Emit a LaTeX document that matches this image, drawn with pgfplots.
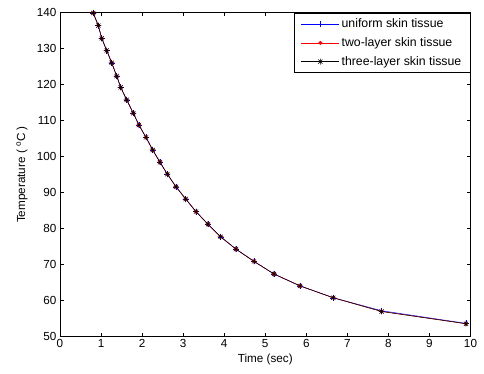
\documentclass[border=0pt]{standalone}
\usepackage{fontspec}
\setmainfont{Liberation Sans}
\usepackage{pgfplots}
\pgfplotsset{compat=1.18}
\pgfdeclareplotmark{mstar}{%
  \pgfpathmoveto{\pgfqpoint{-\pgfplotmarksize}{0pt}}\pgfpathlineto{\pgfqpoint{\pgfplotmarksize}{0pt}}%
  \pgfpathmoveto{\pgfqpoint{0pt}{-\pgfplotmarksize}}\pgfpathlineto{\pgfqpoint{0pt}{\pgfplotmarksize}}%
  \pgfpathmoveto{\pgfqpoint{-0.7\pgfplotmarksize}{-0.7\pgfplotmarksize}}\pgfpathlineto{\pgfqpoint{0.7\pgfplotmarksize}{0.7\pgfplotmarksize}}%
  \pgfpathmoveto{\pgfqpoint{-0.7\pgfplotmarksize}{0.7\pgfplotmarksize}}\pgfpathlineto{\pgfqpoint{0.7\pgfplotmarksize}{-0.7\pgfplotmarksize}}%
  \pgfusepathqstroke}
\begin{document}
\begin{tikzpicture}
\path[use as bounding box] (-60pt,-36.3pt) rectangle (424pt,336.7pt);
\begin{axis}[
  at={(0pt,0pt)}, anchor=south west,
  scale only axis, width=410.5pt, height=324.4pt,
  xmin=0, xmax=10, ymin=50, ymax=140,
  xtick={0,1,...,10}, ytick={50,60,...,140},
  tick align=inside, major tick length=4pt,
  tick style={black, line width=0.5pt},
  axis line style={line width=0.5pt},
  /pgf/number format/assume math mode=true,
  tick label style={font=\fontsize{11.7}{13}\selectfont},
  xticklabel style={yshift=1pt},
  label style={font=\fontsize{11.7}{13}\selectfont},
  xlabel={Time (sec)}, ylabel={Temperature ( \textsuperscript{o}C )},
  xlabel style={at={(axis description cs:0.5,0)}, anchor=center, yshift=-22.5pt},
  ylabel style={at={(axis description cs:0,0.5)}, anchor=center, yshift=38pt},
  legend style={at={(axis description cs:1,0.997)}, anchor=north east, draw=black, line width=0.5pt,
    font=\fontsize{12.3}{14}\selectfont, inner xsep=7pt, inner ysep=3.5pt, row sep=4.3pt,
    cells={anchor=west}, nodes={inner xsep=2pt}},
  legend cell align=left,
  every axis plot/.append style={
    legend image code/.code={\draw[mark=none] (0pt,0pt) -- (38pt,0pt); \draw plot coordinates {(19pt,0pt)};}},
  clip=true,
]
\addplot[blue, line width=0.5pt, mark=+, mark size=3pt, mark options={solid}] coordinates {
(0.81,139.8) (0.933,136.3) (1.016,132.8) (1.138,129.4) (1.259,126.0) (1.381,122.3)
(1.479,119.2) (1.625,115.7) (1.786,112.0) (1.924,108.7) (2.095,105.3) (2.258,101.8)
(2.436,98.4) (2.614,95.1) (2.826,91.6) (3.062,88.2) (3.313,84.7) (3.605,81.2)
(3.915,77.7) (4.287,74.3) (4.726,70.9) (5.213,67.4) (5.847,64.1) (6.658,60.8)
(7.836,57.2) (9.89,53.7)};
\addlegendentry{uniform skin tissue}
\addplot[red, line width=0.5pt, mark=*, mark size=1.8pt, mark options={solid}] coordinates {
(0.81,139.8) (0.933,136.3) (1.016,132.8) (1.138,129.4) (1.259,126.0) (1.381,122.3)
(1.479,119.2) (1.625,115.7) (1.786,112.0) (1.924,108.7) (2.095,105.3) (2.258,101.8)
(2.436,98.4) (2.614,95.1) (2.826,91.6) (3.062,88.2) (3.313,84.7) (3.605,81.2)
(3.915,77.7) (4.287,74.3) (4.726,70.9) (5.213,67.4) (5.847,64.1) (6.658,60.8)
(7.836,57.0) (9.89,53.6)};
\addlegendentry{two-layer skin tissue}
\addplot[black, line width=0.5pt, mark=mstar, mark size=3pt, mark options={solid}] coordinates {
(0.81,139.8) (0.933,136.3) (1.016,132.8) (1.138,129.4) (1.259,126.0) (1.381,122.3)
(1.479,119.2) (1.625,115.7) (1.786,112.0) (1.924,108.7) (2.095,105.3) (2.258,101.8)
(2.436,98.4) (2.614,95.1) (2.826,91.6) (3.062,88.2) (3.313,84.7) (3.605,81.2)
(3.915,77.7) (4.287,74.3) (4.726,70.9) (5.213,67.4) (5.847,64.1) (6.658,60.8)
(7.836,57.0) (9.89,53.6)};
\addlegendentry{three-layer skin tissue}
\end{axis}
\end{tikzpicture}
\end{document}
